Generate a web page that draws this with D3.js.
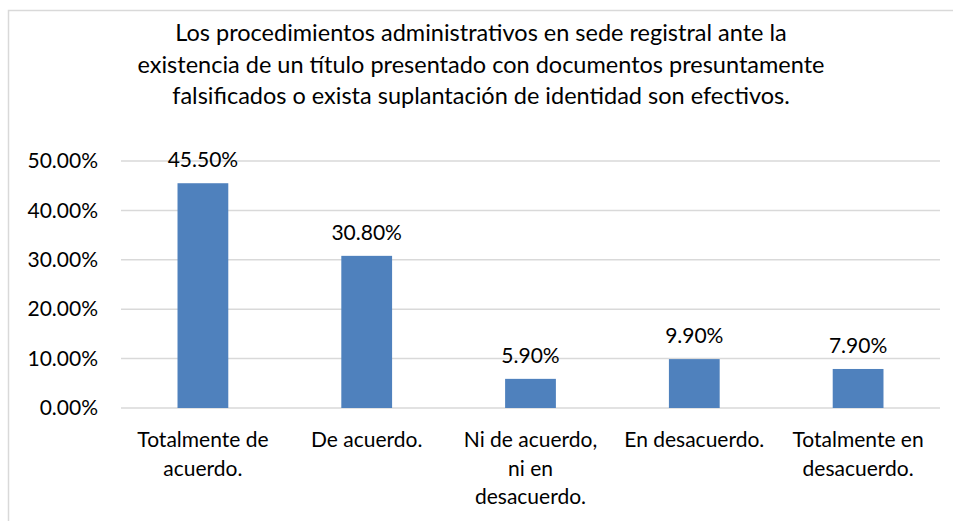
<!DOCTYPE html>
<html>
<head>
<meta charset="utf-8">
<script src="https://cdn.jsdelivr.net/npm/d3@7"></script>
<style>
body { margin:0; background:#fff; }
svg text { font-family:Lato, "Liberation Sans", Arial, sans-serif; fill:#000; }
</style>
</head>
<body>
<svg id="chart"></svg>
<script>
// values
var categories = [
    ["Totalmente de", "acuerdo."],
    ["De acuerdo."],
    ["Ni de acuerdo,", "ni en", "desacuerdo."],
    ["En desacuerdo."],
    ["Totalmente en", "desacuerdo."]
];
var values = [0.455, 0.308, 0.059, 0.099, 0.079];
var yTicks = [0, 0.1, 0.2, 0.3, 0.4, 0.5];
var titleLines = [
    "Los procedimientos administrativos en sede registral ante la",
    "existencia de un título presentado con documentos presuntamente",
    "falsificados o exista suplantación de identidad son efectivos."
];

var screen = {width:953, height:521};
var margins = {left:121, right:13, top:161, bottom:113};
var graph = {
    width: screen.width - margins.left - margins.right,
    height: screen.height - margins.top - margins.bottom
};

var svg = d3.select("#chart")
    .attr("width", screen.width)
    .attr("height", screen.height);

// chart frame (only left and top edges visible)
svg.append("path")
    .attr("d", "M8.5,521 V10.5 H953")
    .attr("fill", "none")
    .attr("stroke", "#d9d9d9")
    .attr("stroke-width", 1.5);

// title
svg.append("g")
    .selectAll("text")
    .data(titleLines)
    .enter()
    .append("text")
    .attr("x", 481)
    .attr("y", function(d, i) { return 41 + i * 31.5; })
    .attr("text-anchor", "middle")
    .style("font-size", "23.5px")
    .text(function(d) { return d; });

var xScale = d3.scaleBand()
    .domain(d3.range(categories.length))
    .range([0, graph.width]);

var yScale = d3.scaleLinear()
    .domain([0, 0.5])
    .range([graph.height, 0]);

var target = svg.append("g")
    .attr("transform", "translate(" + margins.left + "," + margins.top + ")");

// gridlines
target.selectAll("line.grid")
    .data(yTicks)
    .enter()
    .append("line")
    .attr("class", "grid")
    .attr("x1", 0)
    .attr("x2", graph.width)
    .attr("y1", function(d) { return yScale(d); })
    .attr("y2", function(d) { return yScale(d); })
    .attr("stroke", "#d9d9d9")
    .attr("stroke-width", 1.5);

// y axis labels
var yAxis = d3.axisLeft(yScale)
    .tickValues(yTicks)
    .tickSize(0)
    .tickPadding(23)
    .tickFormat(function(d) { return (d * 100).toFixed(2) + "%"; });
var yg = target.append("g").call(yAxis);
yg.select(".domain").remove();
yg.selectAll("text")
    .style("font-size", "21px")
    .style("font-family", "Lato, sans-serif")
    .attr("fill", "#000");

// bars
var barWidth = xScale.bandwidth() * 0.31;
target.selectAll("rect")
    .data(values)
    .enter()
    .append("rect")
    .attr("x", function(d, i) { return xScale(i) + xScale.bandwidth() / 2 - barWidth / 2; })
    .attr("y", function(d) { return yScale(d); })
    .attr("width", barWidth)
    .attr("height", function(d) { return graph.height - yScale(d); })
    .attr("fill", "#4f81bd");

// value labels
target.selectAll("text.val")
    .data(values)
    .enter()
    .append("text")
    .attr("class", "val")
    .attr("x", function(d, i) { return xScale(i) + xScale.bandwidth() / 2; })
    .attr("y", function(d) { return yScale(d) - 16; })
    .attr("text-anchor", "middle")
    .style("font-size", "21px")
    .text(function(d) { return (d * 100).toFixed(2) + "%"; });

// category labels
var cats = target.selectAll("text.cat")
    .data(categories)
    .enter()
    .append("text")
    .attr("class", "cat")
    .attr("text-anchor", "middle")
    .style("font-size", "21px");
cats.selectAll("tspan")
    .data(function(d, i) { return d.map(function(t) { return {t:t, i:i}; }); })
    .enter()
    .append("tspan")
    .attr("x", function(d) { return xScale(d.i) + xScale.bandwidth() / 2; })
    .attr("y", function(d, j) { return graph.height + 39 + j * 28.5; })
    .text(function(d) { return d.t; });
</script>
</body>
</html>
